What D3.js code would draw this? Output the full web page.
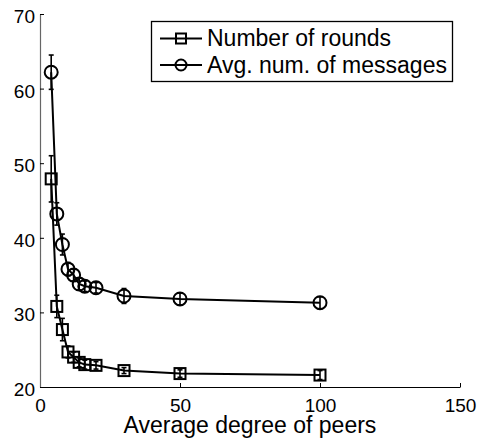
<!DOCTYPE html>
<html>
<head>
<meta charset="utf-8">
<script src="https://cdn.jsdelivr.net/npm/d3@7"></script>
<style>
	body { margin: 0; background: #fff; }
	svg text { font-family: "Liberation Sans", Arial, sans-serif; fill: #000; }
</style>
</head>
<body>
<script>
const w = 478;
const h = 440;

// * DATA
const degrees = [4, 6, 8, 10, 12, 14, 16, 20, 30, 50, 100];
const rounds = [47.9, 30.8, 27.7, 24.7, 24.0, 23.3, 23.0, 22.9, 22.2, 21.8, 21.6];
const roundsErr = [3.1, 1.5, 1.5, 0.8, 0.7, 0.6, 0.6, 0.5, 0.4, 0.5, 0.6];
const messages = [62.2, 43.2, 39.1, 35.8, 35.0, 33.8, 33.5, 33.3, 32.2, 31.8, 31.3];
const messagesErr = [2.3, 1.5, 1.4, 0.9, 0.8, 0.8, 0.7, 0.7, 1.0, 0.8, 0.8];
const xTicks = [0, 50, 100, 150];
const yTicks = [20, 30, 40, 50, 60, 70];
const legendLabels = ["Number of rounds", "Avg. num. of messages"];
const xLabel = "Average degree of peers";

// * SVG BASE SETUP
const svg = d3.select("body").append("svg").attr("width", w).attr("height", h);

// * SCALES
const xScale = d3.scaleLinear().domain([0, 150]).range([40, 460]);
const yScale = d3.scaleLinear().domain([20, 70]).range([387, 14]);

// * AXES
const xAxis = d3.axisBottom(xScale).tickValues(xTicks).tickSizeInner(-4).tickSizeOuter(0);
const yAxis = d3.axisLeft(yScale).tickValues(yTicks).tickSizeInner(-4).tickSizeOuter(0).tickPadding(5);

const gx = svg.append("g").attr("transform", "translate(0," + yScale(20) + ")").call(xAxis);
const gy = svg.append("g").attr("transform", "translate(" + xScale(0) + ",0)").call(yAxis);
[gx, gy].forEach((g) => {
	g.selectAll("text").style("font-size", "19px").attr("fill", "#000");
	g.selectAll("line").attr("stroke", "#000");
});
gx.select(".domain").attr("stroke", "#000").attr("stroke-width", 1.2);
gy.select(".domain").attr("stroke", "#666").attr("stroke-width", 1.2);
gx.selectAll("text").attr("y", 24.5).attr("dy", null);
gy.selectAll("text").attr("dy", "0.45em");

svg.append("text")
	.attr("x", xScale(75))
	.attr("y", 433)
	.attr("text-anchor", "middle")
	.style("font-size", "23px")
	.text(xLabel);

// * SERIES
const series = [
	{ y: rounds, err: roundsErr, shape: "square" },
	{ y: messages, err: messagesErr, shape: "circle" },
];

const line = d3.line().x((d) => xScale(d[0])).y((d) => yScale(d[1]));

function drawMarker(g, cx, cy, shape, size) {
	if (shape === "square") {
		g.append("rect")
			.attr("x", cx - size / 2)
			.attr("y", cy - size / 2)
			.attr("width", size)
			.attr("height", size)
			.attr("fill", "none")
			.attr("stroke", "#000")
			.attr("stroke-width", 2);
	} else {
		g.append("circle")
			.attr("cx", cx)
			.attr("cy", cy)
			.attr("r", size / 2)
			.attr("fill", "none")
			.attr("stroke", "#000")
			.attr("stroke-width", 2);
	}
}

series.forEach((s) => {
	const pts = degrees.map((d, i) => [d, s.y[i], s.err[i]]);
	const g = svg.append("g");
	g.append("path")
		.datum(pts)
		.attr("d", line)
		.attr("fill", "none")
		.attr("stroke", "#000")
		.attr("stroke-width", 2);
	// error bars
	pts.forEach((p) => {
		const x = xScale(p[0]);
		const y0 = yScale(p[1] - p[2]);
		const y1 = yScale(p[1] + p[2]);
		g.append("line").attr("x1", x).attr("x2", x).attr("y1", y0).attr("y2", y1)
			.attr("stroke", "#000").attr("stroke-width", 1.6);
		[y0, y1].forEach((yy) => {
			g.append("line").attr("x1", x - 2.5).attr("x2", x + 2.5).attr("y1", yy).attr("y2", yy)
				.attr("stroke", "#000").attr("stroke-width", 1.6);
		});
	});
	pts.forEach((p) => {
		drawMarker(g, xScale(p[0]), yScale(p[1]), s.shape, s.shape === "square" ? 11 : 13);
	});
});

// * LEGEND
const legend = svg.append("g");
legend.append("rect")
	.attr("x", 151.5)
	.attr("y", 21.5)
	.attr("width", 301)
	.attr("height", 60)
	.attr("fill", "#fff")
	.attr("stroke", "#000")
	.attr("stroke-width", 1.3);
const legendRows = [
	{ label: legendLabels[0], shape: "square", y: 38.5 },
	{ label: legendLabels[1], shape: "circle", y: 65 },
];
legendRows.forEach((r) => {
	legend.append("line").attr("x1", 160).attr("x2", 202).attr("y1", r.y).attr("y2", r.y)
		.attr("stroke", "#000").attr("stroke-width", 2);
	drawMarker(legend, 181, r.y, r.shape, r.shape === "square" ? 10 : 11);
	legend.append("text")
		.attr("x", 207)
		.attr("y", r.y)
		.attr("dy", "0.33em")
		.style("font-size", "23px")
		.text(r.label);
});
</script>
</body>
</html>
